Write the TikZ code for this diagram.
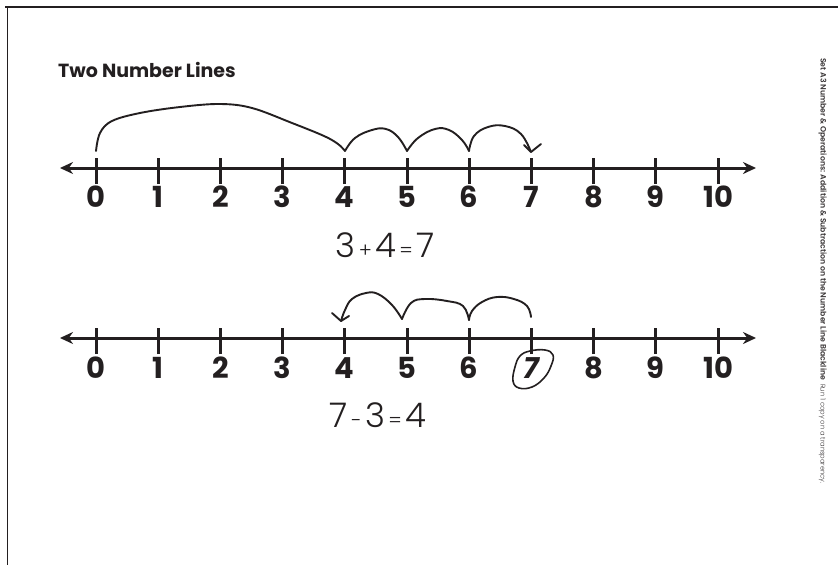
\documentclass[tikz,border=0pt]{standalone}
\usepackage{fontspec}
\setmainfont{Poppins}
\newfontfamily\handfont{Poppins Light}
\newfontfamily\semifont{Poppins SemiBold}
\usetikzlibrary{arrows.meta,calc}
\definecolor{ink}{HTML}{231F20}
\tikzset{
  axisline/.style={line width=3pt, color=ink, {Stealth[length=13pt,width=12pt]}-{Stealth[length=13pt,width=12pt]}},
  tickmark/.style={line width=3pt, color=ink},
  hop/.style={line width=1.9pt, color=ink, line cap=round, line join=round},
  numlab/.style={font=\fontsize{29}{29}\selectfont\bfseries, text=ink, inner sep=0pt},
  eqlab/.style={font=\handfont\fontsize{34}{34}\selectfont, text=ink, inner sep=0pt, anchor=base},
  frameline/.style={line width=1.3pt, color=ink},
}
\begin{document}
\begin{tikzpicture}[x=1pt,y=-1pt]
\useasboundingbox (0,0) rectangle (838,565);
% frame
\coordinate (fa) at (5,7);
\coordinate (fb) at (838,7);
\coordinate (fc) at (7.5,565);
\draw[frameline] (fb) -- (fa) -- (7.5,7) -- (fc);
% title
\node[anchor=base west, font=\fontsize{19}{19}\selectfont\bfseries, text=ink, inner sep=0pt] (title) at (58,77) {Two Number Lines};
% number lines
\foreach \ln/\yy in {1/168, 2/338}{
  \coordinate (L\ln) at (60,\yy);
  \coordinate (R\ln) at (756,\yy);
  \draw[axisline] (L\ln) -- (R\ln);
  \foreach \k in {0,...,10}{
    \coordinate (t\ln-\k) at ({96+62.2*\k},\yy);
    \draw[tickmark] ([yshift=-16pt]t\ln-\k) -- ([yshift=10pt]t\ln-\k);
  }
}
\foreach \k in {0,...,10}{
  \node[numlab] (a\k) at ($(t1-\k)+(0,29)$) {\k};
}
\foreach \k in {0,...,6,8,9,10}{
  \node[numlab] (b\k) at ($(t2-\k)+(0,30)$) {\k};
}
\node[numlab, font=\fontsize{29}{29}\selectfont\bfseries\itshape] (b7) at ($(t2-7)+(0,30)$) {7};
% circle around 7
\draw[hop, line width=1.6pt] plot[smooth cycle, tension=0.7] coordinates
  {(530,351) (545,350) (553,355) (551,366) (544,378) (532,387) (519,388) (513,381) (515,367) (520,356)};
% equations
\node[eqlab] (eq1) at (385,257) {3{\fontsize{20}{20}\selectfont\,+\,}4{\fontsize{20}{20}\selectfont\,=\,}7};
\node[eqlab] (eq2) at (378,427) {7{\fontsize{20}{20}\selectfont\,-\,}3{\fontsize{20}{20}\selectfont\,=\,}4};
% hops line 1
\coordinate (h0) at (96,151);
\coordinate (h4) at (345,151);
\coordinate (h5) at (407,151);
\coordinate (h6) at (469,151);
\coordinate (h7) at (531,152);
\draw[hop] plot[smooth, tension=0.6] coordinates
  {(h0) (100,133) (112,121) (140,113) (180,107) (220,104) (252,108) (292,123) (324,136) (338,144) (h4)};
\draw[hop] plot[smooth, tension=0.7] coordinates
  {(h4) (355,138) (372,130) (386,129) (398,137) (h5)};
\draw[hop] plot[smooth, tension=0.7] coordinates
  {(h5) (418,138) (435,129) (449,130) (462,140) (h6)};
\draw[hop] plot[smooth, tension=0.7] coordinates
  {(h6) (474,136) (488,127) (505,126) (521,134) (h7)};
\draw[hop] (524,145) -- (h7) -- (541,144);
% hops line 2
\coordinate (g7) at (531,317);
\coordinate (g6) at (469,320);
\coordinate (g5) at (402,319);
\coordinate (g4) at (341,321);
\draw[hop] plot[smooth, tension=0.7] coordinates
  {(g7) (527,306) (514,299) (497,297) (482,302) (472,311) (g6)};
\draw[hop] plot[smooth, tension=0.7] coordinates
  {(g6) (463,306) (447,301) (425,299) (411,303) (g5)};
\draw[hop] plot[smooth, tension=0.7] coordinates
  {(g5) (392,305) (378,294) (366,293) (352,299) (345,310) (g4)};
\draw[hop] (332,313) -- (g4) -- (349,316);
% side text
\node[rotate=-90, anchor=north west, inner sep=0pt, text=ink!90] (side) at (827,58)
  {\semifont\fontsize{7.75}{9}\selectfont Set A3 Number \& Operations: Addition \& Subtraction on the Number Line Blackline\enspace{\handfont\fontsize{6.75}{9}\selectfont Run 1 copy on a transparency.}};
\end{tikzpicture}
\end{document}
